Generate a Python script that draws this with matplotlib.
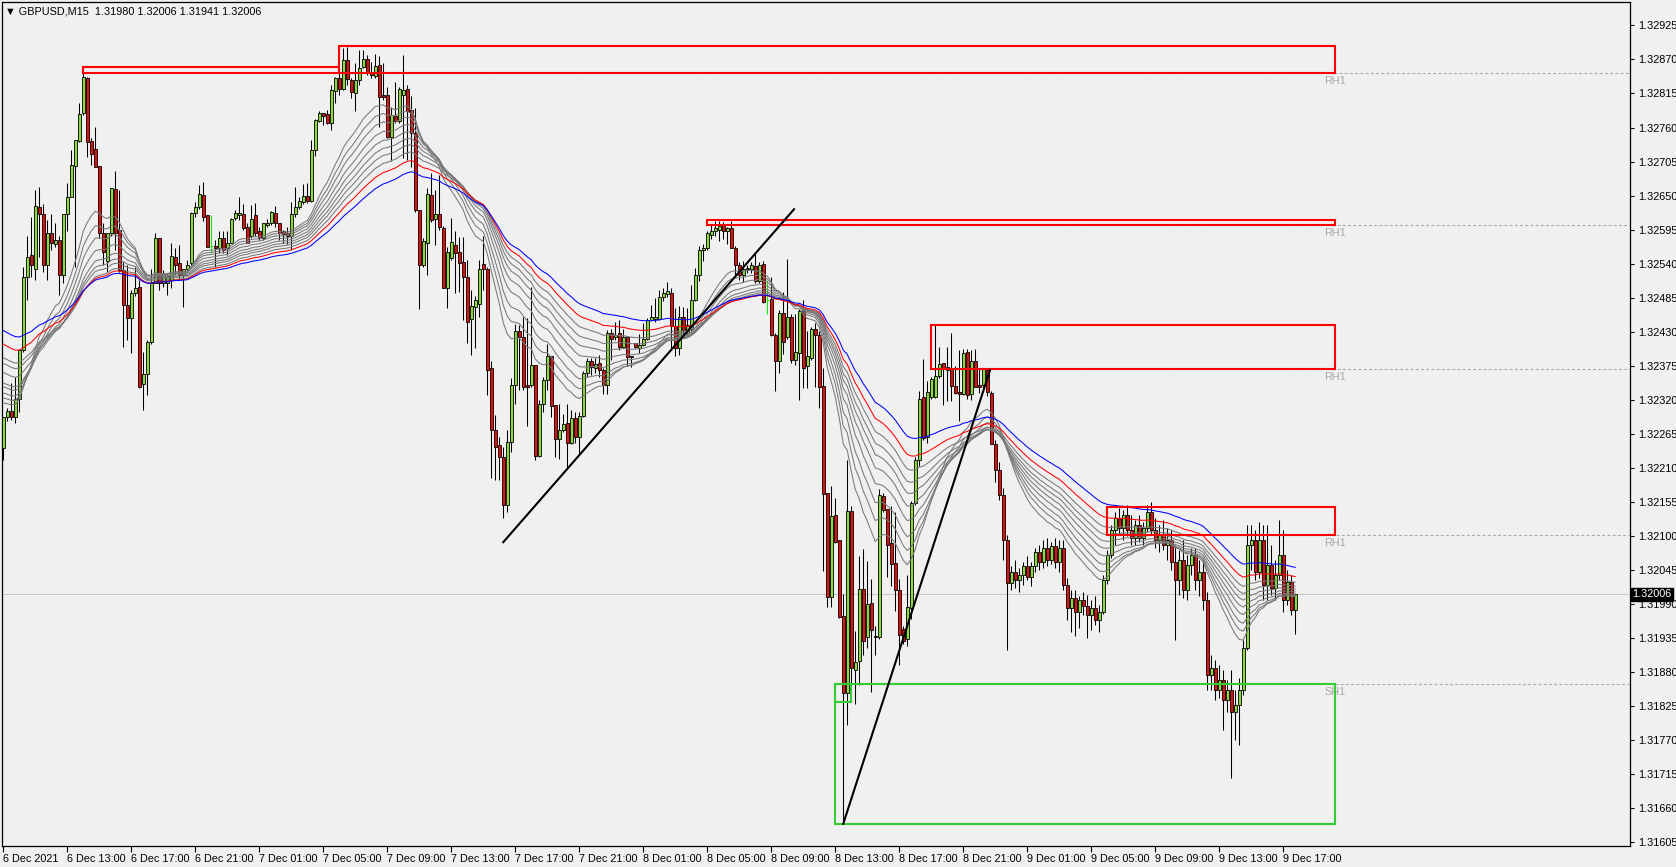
import numpy as np
import matplotlib.pyplot as plt
from matplotlib.patches import Rectangle
import matplotlib.transforms as mtransforms

plt.rcParams['font.family'] = ['Liberation Sans Narrow', 'Liberation Sans', 'DejaVu Sans']

# GBPUSD M15, 6 Dec 2021 09:00 -> 9 Dec 2021 17:45 (bar 0 = 6 Dec 09:00)
opens = [
    1.32242, 1.32293, 1.32302, 1.32293, 1.32322, 1.32400, 1.32519, 1.32554, 1.32532, 1.32631,
    1.32620, 1.32538, 1.32590, 1.32572, 1.32578, 1.32521, 1.32620, 1.32648, 1.32698, 1.32739,
    1.32783, 1.32840, 1.32739, 1.32726, 1.32698, 1.32589, 1.32545, 1.32589, 1.32660, 1.32594,
    1.32530, 1.32473, 1.32452, 1.32493, 1.32503, 1.32346, 1.32362, 1.32414, 1.32509, 1.32581,
    1.32508, 1.32509, 1.32514, 1.32551, 1.32541, 1.32522, 1.32531, 1.32541, 1.32622, 1.32631,
    1.32651, 1.32619, 1.32569, 1.32569, 1.32565, 1.32581, 1.32565, 1.32574, 1.32613, 1.32619,
    1.32620, 1.32600, 1.32584, 1.32619, 1.32592, 1.32581, 1.32602, 1.32605, 1.32622, 1.32605,
    1.32592, 1.32589, 1.32585, 1.32621, 1.32631, 1.32640, 1.32649, 1.32642, 1.32724, 1.32771,
    1.32783, 1.32782, 1.32768, 1.32819, 1.32840, 1.32822, 1.32869, 1.32837, 1.32816, 1.32836,
    1.32857, 1.32870, 1.32849, 1.32843, 1.32861, 1.32812, 1.32812, 1.32744, 1.32779, 1.32771,
    1.32812, 1.32822, 1.32788, 1.32751, 1.32627, 1.32538, 1.32574, 1.32651, 1.32612, 1.32620,
    1.32598, 1.32500, 1.32549, 1.32570, 1.32559, 1.32542, 1.32518, 1.32450, 1.32470, 1.32475,
    1.32540, 1.32532, 1.32371, 1.32272, 1.32247, 1.32228, 1.32150, 1.32252, 1.32344, 1.32432,
    1.32422, 1.32344, 1.32344, 1.32376, 1.32229, 1.32314, 1.32352, 1.32391, 1.32312, 1.32256,
    1.32272, 1.32282, 1.32251, 1.32290, 1.32260, 1.32294, 1.32363, 1.32382, 1.32371, 1.32379,
    1.32368, 1.32344, 1.32428, 1.32421, 1.32428, 1.32406, 1.32421, 1.32391, 1.32412, 1.32403,
    1.32409, 1.32419, 1.32449, 1.32450, 1.32450, 1.32486, 1.32491, 1.32493, 1.32439, 1.32404,
    1.32454, 1.32428, 1.32434, 1.32481, 1.32522, 1.32562, 1.32565, 1.32587, 1.32592, 1.32594,
    1.32602, 1.32592, 1.32597, 1.32565, 1.32538, 1.32521, 1.32531, 1.32532, 1.32536, 1.32512,
    1.32540, 1.32481, 1.32483, 1.32424, 1.32383, 1.32461, 1.32421, 1.32454, 1.32385, 1.32396,
    1.32463, 1.32374, 1.32388, 1.32434, 1.32424, 1.32342, 1.32170, 1.32001, 1.32134, 1.32094,
    1.31971, 1.31846, 1.32140, 1.31884, 1.31898, 1.32015, 1.31936, 1.31991, 1.31938, 1.31936,
    1.32165, 1.32143, 1.32088, 1.32057, 1.32013, 1.31949, 1.31933, 1.31984, 1.32153, 1.32222,
    1.32324, 1.32260, 1.32324, 1.32324, 1.32359, 1.32379, 1.32368, 1.32370, 1.32342, 1.32333,
    1.32329, 1.32397, 1.32329, 1.32382, 1.32344, 1.32344, 1.32368, 1.32331, 1.32248, 1.32207,
    1.32166, 1.32093, 1.32024, 1.32042, 1.32029, 1.32037, 1.32052, 1.32034, 1.32052, 1.32074,
    1.32058, 1.32081, 1.32061, 1.32084, 1.32058, 1.32081, 1.32021, 1.31984, 1.32000, 1.31977,
    1.31997, 1.31987, 1.31972, 1.31984, 1.31964, 1.31977, 1.32029, 1.32069, 1.32110, 1.32129,
    1.32113, 1.32134, 1.32110, 1.32097, 1.32118, 1.32097, 1.32113, 1.32139, 1.32110, 1.32093,
    1.32102, 1.32085, 1.32093, 1.32058, 1.32029, 1.32061, 1.32013, 1.32053, 1.32069, 1.32029,
    1.32042, 1.31997, 1.31875, 1.31887, 1.31851, 1.31867, 1.31835, 1.31851, 1.31816, 1.31827,
    1.31851, 1.31919, 1.32085, 1.32093, 1.32042, 1.32093, 1.32021, 1.32053, 1.32016, 1.32037,
    1.32069, 1.31997, 1.32026, 1.31980,
]
highs = [
    1.32293, 1.32306, 1.32347, 1.32357, 1.32400, 1.32535, 1.32584, 1.32616, 1.32659, 1.32664,
    1.32637, 1.32610, 1.32620, 1.32605, 1.32584, 1.32620, 1.32670, 1.32724, 1.32740, 1.32799,
    1.32848, 1.32842, 1.32743, 1.32761, 1.32698, 1.32605, 1.32589, 1.32662, 1.32689, 1.32659,
    1.32543, 1.32538, 1.32497, 1.32535, 1.32514, 1.32398, 1.32417, 1.32532, 1.32590, 1.32581,
    1.32530, 1.32525, 1.32573, 1.32565, 1.32570, 1.32532, 1.32546, 1.32624, 1.32640, 1.32667,
    1.32672, 1.32619, 1.32619, 1.32579, 1.32592, 1.32592, 1.32592, 1.32613, 1.32627, 1.32648,
    1.32636, 1.32605, 1.32635, 1.32638, 1.32600, 1.32606, 1.32612, 1.32625, 1.32633, 1.32606,
    1.32595, 1.32600, 1.32640, 1.32664, 1.32648, 1.32669, 1.32671, 1.32740, 1.32773, 1.32786,
    1.32784, 1.32788, 1.32829, 1.32842, 1.32858, 1.32888, 1.32890, 1.32840, 1.32865, 1.32885,
    1.32885, 1.32877, 1.32866, 1.32879, 1.32876, 1.32864, 1.32826, 1.32793, 1.32834, 1.32826,
    1.32877, 1.32829, 1.32811, 1.32791, 1.32627, 1.32581, 1.32663, 1.32686, 1.32659, 1.32683,
    1.32601, 1.32567, 1.32613, 1.32593, 1.32583, 1.32583, 1.32546, 1.32497, 1.32487, 1.32546,
    1.32585, 1.32534, 1.32382, 1.32296, 1.32260, 1.32244, 1.32271, 1.32355, 1.32443, 1.32441,
    1.32454, 1.32453, 1.32503, 1.32376, 1.32319, 1.32357, 1.32410, 1.32391, 1.32312, 1.32314,
    1.32297, 1.32314, 1.32304, 1.32301, 1.32301, 1.32366, 1.32387, 1.32387, 1.32387, 1.32392,
    1.32371, 1.32433, 1.32434, 1.32446, 1.32449, 1.32434, 1.32421, 1.32391, 1.32412, 1.32426,
    1.32444, 1.32452, 1.32473, 1.32484, 1.32497, 1.32500, 1.32510, 1.32501, 1.32468, 1.32471,
    1.32470, 1.32468, 1.32505, 1.32533, 1.32569, 1.32572, 1.32592, 1.32602, 1.32609, 1.32609,
    1.32607, 1.32599, 1.32609, 1.32569, 1.32542, 1.32545, 1.32538, 1.32542, 1.32558, 1.32542,
    1.32545, 1.32513, 1.32518, 1.32428, 1.32465, 1.32495, 1.32548, 1.32458, 1.32458, 1.32466,
    1.32481, 1.32431, 1.32438, 1.32444, 1.32431, 1.32371, 1.32170, 1.32181, 1.32161, 1.32094,
    1.32007, 1.32222, 1.32148, 1.31946, 1.32067, 1.32079, 1.32060, 1.32030, 1.31955, 1.32176,
    1.32170, 1.32144, 1.32148, 1.32138, 1.32031, 1.31955, 1.32037, 1.32157, 1.32228, 1.32334,
    1.32386, 1.32350, 1.32357, 1.32441, 1.32406, 1.32379, 1.32406, 1.32428, 1.32375, 1.32401,
    1.32402, 1.32402, 1.32401, 1.32402, 1.32370, 1.32371, 1.32371, 1.32334, 1.32255, 1.32220,
    1.32178, 1.32102, 1.32052, 1.32061, 1.32048, 1.32058, 1.32068, 1.32058, 1.32081, 1.32085,
    1.32093, 1.32097, 1.32090, 1.32097, 1.32093, 1.32093, 1.32032, 1.32013, 1.32013, 1.32003,
    1.32009, 1.32005, 1.31997, 1.32003, 1.31988, 1.32037, 1.32077, 1.32118, 1.32139, 1.32145,
    1.32142, 1.32150, 1.32134, 1.32126, 1.32134, 1.32123, 1.32150, 1.32155, 1.32129, 1.32118,
    1.32126, 1.32113, 1.32110, 1.32085, 1.32077, 1.32093, 1.32069, 1.32081, 1.32081, 1.32061,
    1.32061, 1.32009, 1.31908, 1.31900, 1.31892, 1.31883, 1.31867, 1.31883, 1.31851, 1.31871,
    1.31932, 1.32118, 1.32118, 1.32110, 1.32123, 1.32118, 1.32118, 1.32085, 1.32061, 1.32126,
    1.32110, 1.32045, 1.32037, 1.32006,
]
lows = [
    1.32223, 1.32285, 1.32287, 1.32282, 1.32301, 1.32398, 1.32481, 1.32519, 1.32514, 1.32551,
    1.32527, 1.32514, 1.32562, 1.32567, 1.32489, 1.32508, 1.32592, 1.32648, 1.32535, 1.32737,
    1.32780, 1.32713, 1.32699, 1.32697, 1.32581, 1.32538, 1.32527, 1.32584, 1.32562, 1.32527,
    1.32406, 1.32417, 1.32395, 1.32487, 1.32339, 1.32304, 1.32328, 1.32411, 1.32508, 1.32497,
    1.32503, 1.32489, 1.32500, 1.32522, 1.32516, 1.32470, 1.32527, 1.32538, 1.32616, 1.32629,
    1.32609, 1.32567, 1.32558, 1.32534, 1.32558, 1.32558, 1.32554, 1.32574, 1.32610, 1.32610,
    1.32594, 1.32573, 1.32581, 1.32584, 1.32579, 1.32579, 1.32600, 1.32602, 1.32600, 1.32579,
    1.32573, 1.32572, 1.32562, 1.32616, 1.32628, 1.32637, 1.32638, 1.32640, 1.32714, 1.32769,
    1.32764, 1.32766, 1.32756, 1.32799, 1.32812, 1.32821, 1.32829, 1.32807, 1.32786, 1.32829,
    1.32856, 1.32845, 1.32840, 1.32840, 1.32761, 1.32804, 1.32743, 1.32706, 1.32768, 1.32768,
    1.32710, 1.32708, 1.32697, 1.32624, 1.32466, 1.32534, 1.32522, 1.32608, 1.32570, 1.32594,
    1.32500, 1.32468, 1.32546, 1.32492, 1.32495, 1.32449, 1.32412, 1.32392, 1.32403, 1.32454,
    1.32497, 1.32328, 1.32193, 1.32190, 1.32190, 1.32129, 1.32139, 1.32236, 1.32314, 1.32336,
    1.32336, 1.32277, 1.32341, 1.32222, 1.32228, 1.32301, 1.32336, 1.32293, 1.32227, 1.32225,
    1.32268, 1.32209, 1.32249, 1.32250, 1.32234, 1.32293, 1.32357, 1.32360, 1.32363, 1.32357,
    1.32330, 1.32330, 1.32384, 1.32417, 1.32400, 1.32403, 1.32375, 1.32373, 1.32403, 1.32395,
    1.32407, 1.32417, 1.32448, 1.32446, 1.32449, 1.32479, 1.32486, 1.32401, 1.32391, 1.32392,
    1.32425, 1.32425, 1.32431, 1.32479, 1.32512, 1.32545, 1.32562, 1.32580, 1.32585, 1.32577,
    1.32580, 1.32572, 1.32565, 1.32518, 1.32513, 1.32510, 1.32525, 1.32525, 1.32508, 1.32508,
    1.32477, 1.32458, 1.32423, 1.32334, 1.32364, 1.32394, 1.32418, 1.32379, 1.32377, 1.32320,
    1.32339, 1.32339, 1.32384, 1.32340, 1.32307, 1.32044, 1.31985, 1.31985, 1.32088, 1.31968,
    1.31635, 1.31794, 1.31859, 1.31829, 1.31859, 1.31907, 1.31919, 1.31848, 1.31907, 1.31933,
    1.32138, 1.32033, 1.32019, 1.31979, 1.31892, 1.31926, 1.31922, 1.31966, 1.32150, 1.32213,
    1.32255, 1.32250, 1.32322, 1.32323, 1.32356, 1.32311, 1.32318, 1.32318, 1.32329, 1.32285,
    1.32328, 1.32322, 1.32319, 1.32340, 1.32331, 1.32334, 1.32326, 1.32248, 1.32187, 1.32158,
    1.32061, 1.31916, 1.32013, 1.32016, 1.32009, 1.32021, 1.32029, 1.32019, 1.32042, 1.32045,
    1.32048, 1.32052, 1.32055, 1.32048, 1.32042, 1.32013, 1.31964, 1.31945, 1.31938, 1.31951,
    1.31972, 1.31935, 1.31948, 1.31956, 1.31945, 1.31974, 1.32022, 1.32064, 1.32085, 1.32102,
    1.32093, 1.32100, 1.32085, 1.32085, 1.32090, 1.32085, 1.32106, 1.32102, 1.32081, 1.32074,
    1.32077, 1.32061, 1.32045, 1.31932, 1.32005, 1.32000, 1.31997, 1.32037, 1.32013, 1.32003,
    1.31980, 1.31851, 1.31851, 1.31835, 1.31838, 1.31786, 1.31816, 1.31709, 1.31770, 1.31762,
    1.31843, 1.31916, 1.32045, 1.32029, 1.32032, 1.31997, 1.31997, 1.32005, 1.31997, 1.32029,
    1.31977, 1.31988, 1.31972, 1.31941,
]
closes = [
    1.32293, 1.32302, 1.32293, 1.32322, 1.32400, 1.32519, 1.32551, 1.32538, 1.32633, 1.32621,
    1.32538, 1.32590, 1.32573, 1.32579, 1.32521, 1.32620, 1.32648, 1.32699, 1.32740, 1.32782,
    1.32841, 1.32737, 1.32718, 1.32697, 1.32589, 1.32559, 1.32589, 1.32662, 1.32589, 1.32530,
    1.32473, 1.32453, 1.32493, 1.32500, 1.32340, 1.32362, 1.32414, 1.32509, 1.32581, 1.32508,
    1.32525, 1.32520, 1.32553, 1.32538, 1.32522, 1.32531, 1.32538, 1.32622, 1.32631, 1.32652,
    1.32616, 1.32567, 1.32569, 1.32565, 1.32581, 1.32562, 1.32573, 1.32612, 1.32622, 1.32622,
    1.32597, 1.32574, 1.32612, 1.32590, 1.32581, 1.32605, 1.32606, 1.32623, 1.32605, 1.32589,
    1.32588, 1.32585, 1.32621, 1.32631, 1.32642, 1.32649, 1.32642, 1.32724, 1.32772, 1.32783,
    1.32779, 1.32768, 1.32821, 1.32840, 1.32823, 1.32869, 1.32838, 1.32818, 1.32837, 1.32856,
    1.32870, 1.32849, 1.32845, 1.32859, 1.32809, 1.32810, 1.32745, 1.32780, 1.32771, 1.32823,
    1.32821, 1.32787, 1.32751, 1.32627, 1.32538, 1.32577, 1.32653, 1.32610, 1.32620, 1.32599,
    1.32500, 1.32559, 1.32575, 1.32557, 1.32541, 1.32518, 1.32445, 1.32472, 1.32481, 1.32532,
    1.32532, 1.32369, 1.32272, 1.32244, 1.32228, 1.32150, 1.32252, 1.32344, 1.32432, 1.32421,
    1.32341, 1.32340, 1.32376, 1.32229, 1.32314, 1.32352, 1.32391, 1.32310, 1.32256, 1.32272,
    1.32281, 1.32251, 1.32290, 1.32260, 1.32294, 1.32363, 1.32382, 1.32373, 1.32378, 1.32368,
    1.32344, 1.32428, 1.32419, 1.32425, 1.32406, 1.32422, 1.32390, 1.32389, 1.32406, 1.32409,
    1.32418, 1.32449, 1.32454, 1.32454, 1.32486, 1.32492, 1.32496, 1.32439, 1.32404, 1.32454,
    1.32433, 1.32441, 1.32481, 1.32522, 1.32562, 1.32565, 1.32589, 1.32593, 1.32597, 1.32601,
    1.32592, 1.32597, 1.32565, 1.32538, 1.32521, 1.32532, 1.32533, 1.32538, 1.32512, 1.32538,
    1.32478, 1.32481, 1.32424, 1.32383, 1.32461, 1.32414, 1.32454, 1.32385, 1.32398, 1.32463,
    1.32372, 1.32391, 1.32434, 1.32424, 1.32340, 1.32168, 1.32001, 1.32132, 1.32091, 1.31969,
    1.31846, 1.32141, 1.31886, 1.31897, 1.32015, 1.31931, 1.31990, 1.31948, 1.31936, 1.32166,
    1.32142, 1.32086, 1.32055, 1.32013, 1.31940, 1.31931, 1.31985, 1.32153, 1.32222, 1.32322,
    1.32259, 1.32333, 1.32353, 1.32359, 1.32378, 1.32370, 1.32373, 1.32342, 1.32331, 1.32329,
    1.32395, 1.32328, 1.32382, 1.32341, 1.32340, 1.32370, 1.32333, 1.32248, 1.32207, 1.32166,
    1.32093, 1.32024, 1.32042, 1.32029, 1.32037, 1.32052, 1.32034, 1.32052, 1.32074, 1.32058,
    1.32081, 1.32061, 1.32084, 1.32058, 1.32081, 1.32021, 1.31984, 1.32000, 1.31977, 1.31997,
    1.31987, 1.31972, 1.31984, 1.31964, 1.31977, 1.32029, 1.32069, 1.32110, 1.32129, 1.32113,
    1.32134, 1.32110, 1.32097, 1.32118, 1.32097, 1.32113, 1.32139, 1.32110, 1.32093, 1.32102,
    1.32085, 1.32093, 1.32058, 1.32029, 1.32061, 1.32013, 1.32053, 1.32069, 1.32029, 1.32042,
    1.31997, 1.31875, 1.31887, 1.31851, 1.31867, 1.31835, 1.31851, 1.31816, 1.31827, 1.31851,
    1.31919, 1.32085, 1.32093, 1.32042, 1.32093, 1.32021, 1.32053, 1.32016, 1.32037, 1.32069,
    1.31997, 1.32026, 1.31980, 1.32006,
]

# moving averages: periods and their value at the first visible bar
grey_periods = [20, 24, 28, 33, 38, 43, 48, 54]
grey_start = [1.32315, 1.32323, 1.32331, 1.32341, 1.32347, 1.32364, 1.32379, 1.32388]
red_period, red_start = 62, 1.32410
blue_period, blue_start = 74, 1.32432

# rectangles: (first bar, last bar, low, high)
red_boxes = [(20, 84, 1.32848, 1.32858), (84, 333, 1.32848, 1.32892),
             (176, 333, 1.32602, 1.32611), (232, 333, 1.32370, 1.32441),
             (276, 333, 1.32101, 1.32147)]
green_boxes = [(208, 333, 1.31635, 1.31861), (208, 212, 1.31831, 1.31861)]
levels = [(84, 1.32848, 'RH1'), (176, 1.32602, 'RH1'), (232, 1.32370, 'RH1'),
          (276, 1.32101, 'RH1'), (208, 1.31861, 'SH1')]
trend_lines = [((125, 1.32090), (197.7, 1.32628)), ((210, 1.31635), (246.7, 1.32368))]

price_ticks = [1.31605, 1.31660, 1.31715, 1.31770, 1.31825, 1.31880, 1.31935, 1.31990,
               1.32045, 1.32100, 1.32155, 1.32210, 1.32265, 1.32320, 1.32375, 1.32430,
               1.32485, 1.32540, 1.32595, 1.32650, 1.32705, 1.32760, 1.32815, 1.32870, 1.32925]
time_ticks = [0, 16, 32, 48, 64, 80, 96, 112, 128, 144, 160, 176, 192, 208, 224, 240,
              256, 272, 288, 304, 320]
time_labels = ['6 Dec 2021', '6 Dec 13:00', '6 Dec 17:00', '6 Dec 21:00', '7 Dec 01:00',
               '7 Dec 05:00', '7 Dec 09:00', '7 Dec 13:00', '7 Dec 17:00', '7 Dec 21:00',
               '8 Dec 01:00', '8 Dec 05:00', '8 Dec 09:00', '8 Dec 13:00', '8 Dec 17:00',
               '8 Dec 21:00', '9 Dec 01:00', '9 Dec 05:00', '9 Dec 09:00', '9 Dec 13:00',
               '9 Dec 17:00']
last_price = 1.32006


def ema(values, period, start):
    a = 2.0 / (period + 1)
    out = [start]
    for v in values[1:]:
        out.append(out[-1] + a * (v - out[-1]))
    return out


o = np.array(opens); h = np.array(highs); l = np.array(lows); c = np.array(closes)
x = np.arange(len(c))
bg = '#f0f0f0'
fs = 7.8

fig = plt.figure(figsize=(16.76, 8.67), dpi=100)
fig.patch.set_facecolor(bg)
ax = fig.add_axes([2 / 1676, 21 / 867, 1628 / 1676, 844 / 867])
ax.set_facecolor(bg)
ax.set_xlim(-0.325, 406.7)
ax.set_ylim(1.315991, 1.329628)

# current price line
ax.axhline(last_price, color='#c8c8c8', lw=0.75, zorder=1)

up = c > o
dn = c < o
dj = c == o
ax.vlines(x[~dj], l[~dj], h[~dj], color='black', lw=0.75, zorder=2)
ax.vlines(x[dj], l[dj], h[dj], color='#00ee00', lw=0.75, zorder=2)
ax.hlines(c[dj], x[dj] - 0.4, x[dj] + 0.4, color='#00ee00', lw=0.75, zorder=2)
ax.bar(x[up], c[up] - o[up], bottom=o[up], width=0.75, color='#8cd93a',
       edgecolor='black', lw=0.6, zorder=3)
ax.bar(x[dn], o[dn] - c[dn], bottom=c[dn], width=0.75, color='#e01010',
       edgecolor='black', lw=0.6, zorder=3)

for p, s in zip(grey_periods, grey_start):
    ax.plot(x, ema(closes, p, s), color='#787878', lw=0.75, zorder=4)
ax.plot(x, ema(closes, red_period, red_start), color='#ff0000', lw=0.75, zorder=4)
ax.plot(x, ema(closes, blue_period, blue_start), color='#0000ff', lw=0.75, zorder=4)

# support / resistance levels
for x0, y0, name in levels:
    ax.plot([x0, 406.7], [y0, y0], color='#a8a8a8', lw=0.75, dashes=(2.8, 2.2), zorder=4)
    ax.annotate(name, (333, y0), xytext=(0, -2), textcoords='offset points',
                ha='center', va='top', color='#a8a8a8', fontsize=fs, zorder=4)
for x0, x1, y0, y1 in red_boxes:
    ax.add_patch(Rectangle((x0, y0), x1 - x0, y1 - y0, fill=False,
                           edgecolor='#ff0000', lw=1.5, zorder=5))
for x0, x1, y0, y1 in green_boxes:
    ax.add_patch(Rectangle((x0, y0), x1 - x0, y1 - y0, fill=False,
                           edgecolor='#33cc33', lw=1.5, zorder=5))
for (x0, y0), (x1, y1) in trend_lines:
    ax.plot([x0, x1], [y0, y1], color='black', lw=1.5, zorder=6)

# axes
for s in ax.spines.values():
    s.set_color('black')
    s.set_linewidth(0.9)
ax.yaxis.tick_right()
ax.set_yticks(price_ticks)
ax.set_yticklabels(['%.5f' % v for v in price_ticks])
ax.tick_params(axis='y', direction='out', length=3, width=0.8, pad=3,
               labelsize=fs, colors='black')
ax.set_xticks(time_ticks)
ax.set_xticklabels(time_labels, ha='left')
ax.tick_params(axis='x', direction='out', length=4, width=0.8, pad=2, labelsize=fs)

trans = mtransforms.blended_transform_factory(ax.transAxes, ax.transData)
ax.text(1.0015, last_price, '%.5f' % last_price, transform=trans, color='white',
        fontsize=fs, va='center', ha='left',
        bbox=dict(boxstyle='square,pad=0.15', fc='black', ec='black'))

fig.text(5 / 1676, 1 - 11 / 867, '\u25bc GBPUSD,M15  1.31980 1.32006 1.31941 1.32006',
         fontsize=fs, va='center', ha='left', color='black')

fig.savefig('out.png', dpi=100, facecolor=bg)
